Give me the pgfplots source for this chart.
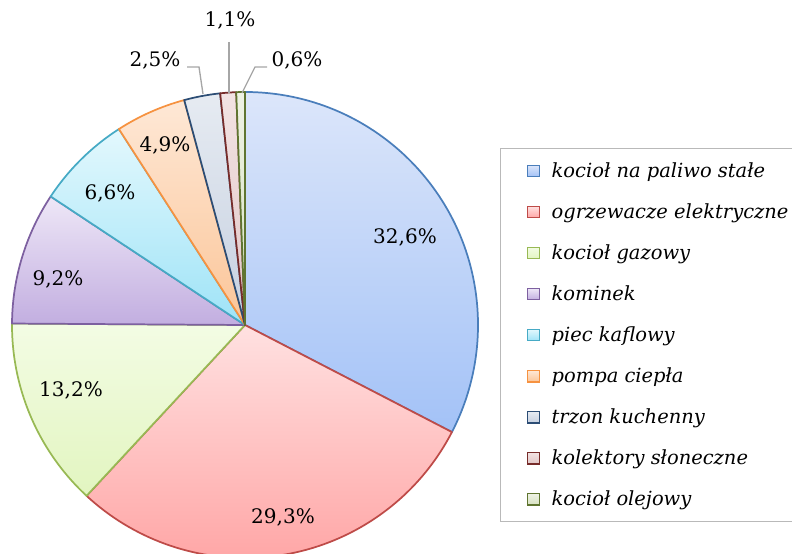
\documentclass[border=0pt]{standalone}
\usepackage{pgfplots}
\pgfplotsset{compat=1.18}
\usepackage{pgfplotstable}
\usepackage{fontspec}
\setmainfont{DejaVu Serif}

% slice colours: gradient top, gradient bottom, outline
\definecolor{sT0}{HTML}{DCE6FA}\definecolor{sB0}{HTML}{A3C2F7}\definecolor{sL0}{HTML}{4A7EBB}
\definecolor{sT1}{HTML}{FFE1E1}\definecolor{sB1}{HTML}{FFA6A6}\definecolor{sL1}{HTML}{BE4B48}
\definecolor{sT2}{HTML}{F3FCE4}\definecolor{sB2}{HTML}{E2F5C0}\definecolor{sL2}{HTML}{98B954}
\definecolor{sT3}{HTML}{EEE7F7}\definecolor{sB3}{HTML}{C2AEE0}\definecolor{sL3}{HTML}{7D60A0}
\definecolor{sT4}{HTML}{E3F8FD}\definecolor{sB4}{HTML}{9EE3F7}\definecolor{sL4}{HTML}{46AAC5}
\definecolor{sT5}{HTML}{FEE8D6}\definecolor{sB5}{HTML}{FBC598}\definecolor{sL5}{HTML}{F69240}
\definecolor{sT6}{HTML}{E6EBF2}\definecolor{sB6}{HTML}{C6D0E0}\definecolor{sL6}{HTML}{2C4D75}
\definecolor{sT7}{HTML}{F2E3E3}\definecolor{sB7}{HTML}{E1C6C6}\definecolor{sL7}{HTML}{772C2A}
\definecolor{sT8}{HTML}{EEF2E4}\definecolor{sB8}{HTML}{D7E1C1}\definecolor{sL8}{HTML}{5F7530}

% share in percent, label position (pixels, y from bottom)
\pgfplotstableread[col sep=comma]{
value,lx,ly,text
32.6,405,316,{32,6\%}
29.3,283,36,{29,3\%}
13.2,71,163,{13,2\%}
9.2,58,274,{9,2\%}
6.6,110,360,{6,6\%}
4.9,165,408,{4,9\%}
2.5,155,493,{2,5\%}
1.1,230,533,{1,1\%}
0.6,297,493,{0,6\%}
}\piedata

\newcommand{\legimg}[1]{\addlegendimage{legend image code/.code={%
  \shadedraw[top color=sT#1,bottom color=sB#1,draw=sL#1,line width=0.9pt]
    (0pt,-4.3pt) rectangle (8.6pt,4.3pt);
  \path (15.5pt,0pt);}}}

\begin{document}
\begin{tikzpicture}
\begin{axis}[
    name=ax,
    scale only axis,
    width=594pt, height=414.75pt,
    xmin=0, xmax=792, ymin=0, ymax=553,
    hide axis,
    legend style={at={(0.6313,0.7324)}, anchor=north west,
        draw=gray!55, line width=0.8pt, font=\fontsize{14.6}{17.5}\selectfont\itshape,
        row sep=14.2pt, inner xsep=20pt, inner ysep=8.5pt},
    legend cell align=left,
]
\legimg{0}\addlegendentry{kocioł na paliwo stałe}
\legimg{1}\addlegendentry{ogrzewacze elektryczne}
\legimg{2}\addlegendentry{kocioł gazowy}
\legimg{3}\addlegendentry{kominek}
\legimg{4}\addlegendentry{piec kaflowy}
\legimg{5}\addlegendentry{pompa ciepła}
\legimg{6}\addlegendentry{trzon kuchenny}
\legimg{7}\addlegendentry{kolektory słoneczne}
\legimg{8}\addlegendentry{kocioł olejowy}

\pgfplotsextra{
  \pgfplotstablegetrowsof{\piedata}
  \pgfmathtruncatemacro\lastrow{\pgfplotsretval-1}
  \gdef\angA{90}
  \foreach \i in {0,...,\lastrow} {
    \pgfplotstablegetelem{\i}{value}\of\piedata
    \pgfmathsetmacro\angB{\angA-3.6*\pgfplotsretval}
    \shadedraw[top color=sT\i, bottom color=sB\i, draw=sL\i, line width=1.3pt, line join=round]
      (axis cs:245,228) -- ++(\angA:174.75pt)
      arc[start angle=\angA, end angle=\angB, radius=174.75pt] -- cycle;
    \xdef\angA{\angB}
  }
  % leader lines for the small slices
  \draw[gray!70, line width=1pt] (axis cs:187,486) -- (axis cs:199,486) -- (axis cs:203,459);
  \draw[gray!70, line width=1pt] (axis cs:229,511) -- (axis cs:229,460);
  \draw[gray!70, line width=1pt] (axis cs:267,486) -- (axis cs:255,486) -- (axis cs:242,460);
  \foreach \i in {0,...,\lastrow} {
    \pgfplotstablegetelem{\i}{lx}\of\piedata \let\lx\pgfplotsretval
    \pgfplotstablegetelem{\i}{ly}\of\piedata \let\ly\pgfplotsretval
    \pgfplotstablegetelem{\i}{text}\of\piedata
    \node[font=\fontsize{15}{18}\selectfont] at (axis cs:\lx,\ly) {\pgfplotsretval};
  }
}
\end{axis}
\pgfresetboundingbox
\path[use as bounding box] (ax.south west) rectangle (ax.north east);
\end{tikzpicture}
\end{document}
